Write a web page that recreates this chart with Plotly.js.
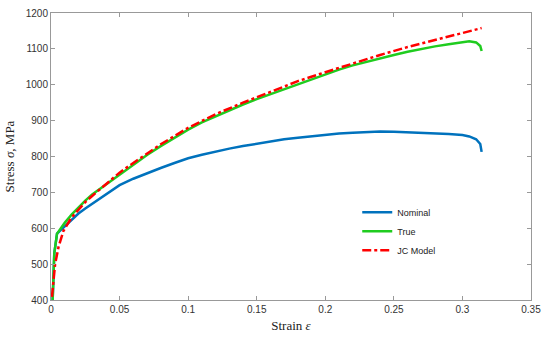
<!DOCTYPE html>
<html>
<head>
<meta charset="utf-8">
<script src="https://cdn.plot.ly/plotly-3.0.1.min.js"></script>
<style>html,body{margin:0;padding:0;background:#fff;}#chart{width:550px;height:340px;}</style>
</head>
<body>
<div id="chart"></div>
<script>
const nominalStrain = [0.0012,0.0024,0.0044,0.01,0.015,0.02,0.025,0.03,0.04,0.047,0.05,0.06,0.07,0.08,0.09,0.1,0.11,0.12,0.13,0.14,0.15,0.16,0.17,0.18,0.19,0.2,0.21,0.22,0.23,0.24,0.25,0.26,0.27,0.28,0.29,0.3,0.305,0.31,0.313,0.314];
const nominalStress = [400,530,585,605,624,641,655,668,695,713,720,738,754,768,782,795,805,814,822,829,836,842,848,852,856,862,864,866,868,870,869,868,866,865,863,860,856,848,835,813];
const trueStrain = [0.0012,0.0024,0.0044,0.01,0.015,0.02,0.025,0.03,0.04,0.05,0.06,0.07,0.08,0.09,0.1,0.11,0.12,0.13,0.14,0.15,0.16,0.17,0.18,0.19,0.2,0.21,0.22,0.23,0.24,0.25,0.26,0.27,0.28,0.29,0.3,0.305,0.31,0.313,0.314];
const trueStress = [400,530,585,615,638,659,677,694,722,750,778,804,829,853,875,895,912,929,945,960,974,988,1002,1015,1030,1042,1054,1064,1075,1083,1092,1100,1107,1113,1118,1121,1118,1108,1094];
const jcStrain = [0.0007,0.002,0.003,0.0055,0.009,0.015,0.02,0.025,0.03,0.04,0.05,0.06,0.08,0.1,0.12,0.14,0.16,0.18,0.2,0.22,0.24,0.26,0.28,0.3,0.314];
const jcStress = [409,457,500,548,592,630,652,673,690,722,755,782,834,880,918,950,980,1010,1035,1060,1083,1105,1125,1145,1158];
const seriesNames = ["Nominal","True","JC Model"];
const xTicks = [0,0.05,0.1,0.15,0.2,0.25,0.3,0.35];
const xTickText = ["0","0.05","0.1","0.15","0.2","0.25","0.3","0.35"];
const yTicks = [400,500,600,700,800,900,1000,1100,1200];

const traces = [
  {x: nominalStrain, y: nominalStress, name: seriesNames[0], mode: "lines", line: {color: "#0072BD", width: 2.5}},
  {x: trueStrain, y: trueStress, name: seriesNames[1], mode: "lines", line: {color: "#1fcc1f", width: 2.5}},
  {x: jcStrain, y: jcStress, name: seriesNames[2], mode: "lines", line: {color: "#ff0000", width: 2.5, dash: "dashdot"}}
];
const axisCommon = {
  showgrid: false, zeroline: false, showline: true, mirror: "ticks",
  linecolor: "#999", linewidth: 1, ticks: "inside", ticklen: 4, tickcolor: "#999",
  tickfont: {family: "Liberation Sans, Arial", size: 10, color: "#333"}
};
const layout = {
  width: 550, height: 340,
  margin: {l: 51, r: 19, t: 13, b: 40},
  paper_bgcolor: "#fff", plot_bgcolor: "#fff",
  showlegend: true,
  legend: {x: 0.638, y: 0.356, xanchor: "left", yanchor: "top", bgcolor: "rgba(0,0,0,0)",
           font: {family: "Liberation Sans, Arial", size: 9, color: "#222"}, tracegroupgap: 0, itemwidth: 30},
  xaxis: Object.assign({}, axisCommon, {range: [0, 0.35], tickvals: xTicks, ticktext: xTickText,
    title: {text: "Strain <i>ε</i>", font: {family: "Liberation Serif, Times New Roman", size: 13, color: "#222"}, standoff: 6}}),
  yaxis: Object.assign({}, axisCommon, {range: [400, 1200], tickvals: yTicks,
    title: {text: "Stress <i>σ</i>, MPa", font: {family: "Liberation Serif, Times New Roman", size: 13, color: "#222"}, standoff: 8}})
};
Plotly.newPlot("chart", traces, layout, {displayModeBar: false, staticPlot: true});
</script>
</body>
</html>
